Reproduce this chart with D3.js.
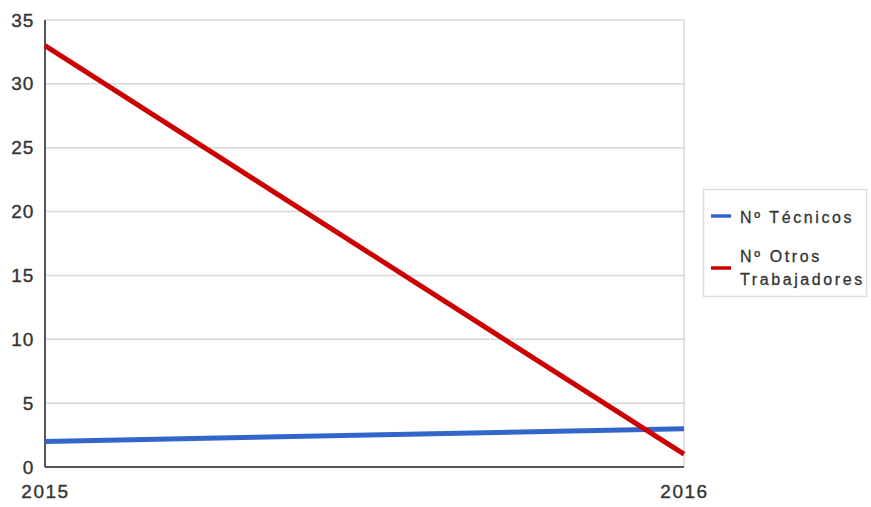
<!DOCTYPE html>
<html><head><meta charset="utf-8">
<script src="https://cdn.jsdelivr.net/npm/d3@7"></script>
<style>body{margin:0;background:#fff}svg{display:block}text{font-family:"Liberation Sans",Arial,sans-serif}</style>
</head><body>
<svg id="c" width="871" height="507"></svg>
<script>
const years = ["2015", "2016"];
const tecnicos = [2, 3];
const otros = [33, 1];
const yTicks = [0, 5, 10, 15, 20, 25, 30, 35];
const seriesNames = ["Nº Técnicos", "Nº Otros Trabajadores"];
const seriesColors = ["#3366cc", "#cc0000"];

const svg = d3.select("#c");
const L = 45, R = 684, T = 20, B = 467;
const x = d3.scalePoint().domain(years).range([L, R]);
const y = d3.scaleLinear().domain([0, 35]).range([B, T]);

// gridlines
svg.append("g").selectAll("line").data(yTicks.filter(d => d > 0)).join("line")
  .attr("x1", L).attr("x2", R).attr("y1", d => y(d)).attr("y2", d => y(d))
  .attr("stroke", "#d8d8d8").attr("stroke-width", 1.5);
// right border
svg.append("line").attr("x1", R).attr("x2", R).attr("y1", T).attr("y2", B)
  .attr("stroke", "#d8d8d8").attr("stroke-width", 1.5);

function styleText(sel) {
  sel.attr("font-size", 19).attr("fill", "#333").attr("stroke", "#333").attr("stroke-width", 0.35)
    .attr("letter-spacing", 0.8).attr("font-family", "Liberation Sans, Arial, sans-serif");
}

// y axis labels
const yAxis = d3.axisLeft(y).tickValues(yTicks).tickSize(0).tickPadding(11);
const gy = svg.append("g").attr("transform", `translate(${L},0)`).call(yAxis);
gy.select(".domain").remove();
gy.selectAll("text").call(styleText);

// x axis labels
const xAxis = d3.axisBottom(x).tickSize(0).tickPadding(18);
const gx = svg.append("g").attr("transform", `translate(0,${B})`).call(xAxis);
gx.select(".domain").remove();
gx.selectAll("text").call(styleText).attr("letter-spacing", 1.5);

// axis lines
svg.append("line").attr("x1", L).attr("x2", L).attr("y1", T).attr("y2", B)
  .attr("stroke", "#555").attr("stroke-width", 2);
svg.append("line").attr("x1", L).attr("x2", R).attr("y1", B).attr("y2", B)
  .attr("stroke", "#555").attr("stroke-width", 2);

// lines
const line = d3.line().x((d, i) => x(years[i])).y(d => y(d));
[tecnicos, otros].forEach((s, i) => {
  svg.append("path").datum(s).attr("d", line).attr("fill", "none")
    .attr("stroke", seriesColors[i]).attr("stroke-width", 5);
});

// legend
const lg = svg.append("g");
lg.append("rect").attr("x", 703.5).attr("y", 189.5).attr("width", 163).attr("height", 107)
  .attr("fill", "#fff").attr("stroke", "#ddd").attr("stroke-width", 1.5);
const legendItems = [
  { lines: ["Nº Técnicos"], ly: 216, ty: [223] },
  { lines: ["Nº Otros", "Trabajadores"], ly: 268, ty: [262, 285] }
];
legendItems.forEach((it, i) => {
  lg.append("line").attr("x1", 711).attr("x2", 731).attr("y1", it.ly).attr("y2", it.ly)
    .attr("stroke", seriesColors[i]).attr("stroke-width", 3.5);
  it.lines.forEach((t, j) => {
    lg.append("text").attr("x", 740).attr("y", it.ty[j]).text(t)
      .attr("font-size", 16).attr("fill", "#333").attr("stroke", "#333").attr("stroke-width", 0.3)
      .attr("letter-spacing", 2.6);
  });
});
</script>
</body></html>
